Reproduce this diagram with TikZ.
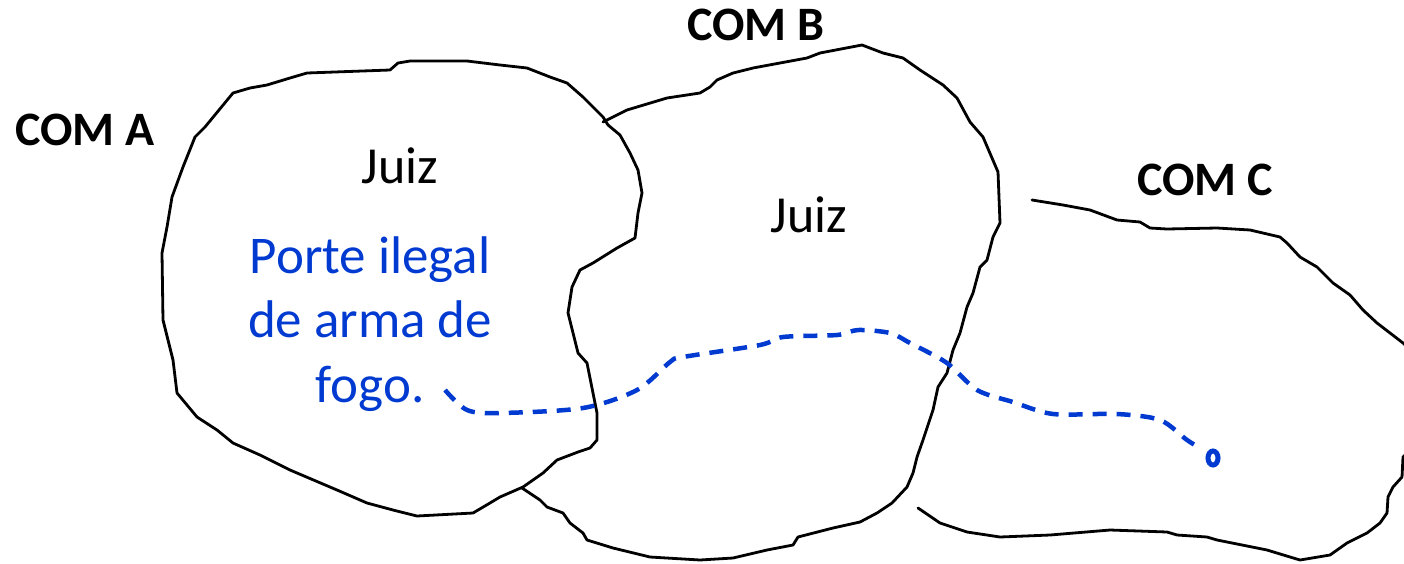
\documentclass[tikz,border=0pt]{standalone}
\usepackage{fontspec}
\setmainfont{Carlito}
\definecolor{penblue}{RGB}{0,58,208}
\begin{document}
\begin{tikzpicture}[x=1pt,y=-1pt,
  blob/.style={draw=black,line width=2.8pt,line join=round,line cap=round},
  label/.style={font=\fontsize{48}{58}\selectfont\bfseries,anchor=base,inner sep=0pt},
  judge/.style={font=\fontsize{52}{62}\selectfont,anchor=base,inner sep=0pt},
  crime/.style={font=\fontsize{53}{64.5}\selectfont,text=penblue,align=center,anchor=base,inner sep=0pt},
  route/.style={draw=penblue,line width=4.5pt,dash pattern=on 14pt off 10pt,smooth,tension=0.5}]
\useasboundingbox (0,0) rectangle (1404,563);
\begin{scope}
\clip (0,0) rectangle (1404,563);
% COM A
\draw[blob] (307,73) -- (390,70) -- (398,63) -- (410,61) -- (467,61) -- (500,65) -- (527,68) -- (550,77) -- (567,83) -- (583,97) -- (603,117) -- (608,125) -- (620,135) -- (630,153) -- (638,170) -- (642,193) -- (638,213) -- (635,238) -- (617,248) -- (593,263) -- (580,270) -- (572,287) -- (568,313) -- (573,333) -- (578,353) -- (587,363) -- (593,393) -- (597,413) -- (597,440) -- (590,448) -- (578,452) -- (557,460) -- (543,473) -- (523,487) -- (500,497) -- (490,503) -- (473,513) -- (417,516) -- (393,510) -- (367,503) -- (337,490) -- (290,470) -- (260,455) -- (233,443) -- (217,430) -- (197,417) -- (177,393) -- (173,360) -- (163,320) -- (162,253) -- (167,227) -- (172,197) -- (183,167) -- (195,137) -- (205,127) -- (233,93) -- (250,88) -- (267,85) -- (290,78) -- cycle;
% COM B
\draw[blob] (603,122) -- (627,110) -- (667,98) -- (700,93) -- (710,87) -- (717,80) -- (733,73) -- (753,68) -- (807,58) -- (820,53) -- (862,45) -- (883,53) -- (903,58) -- (920,70) -- (943,85) -- (957,98) -- (970,122) -- (983,137) -- (998,172) -- (1000,223) -- (993,237) -- (987,260) -- (980,267) -- (973,293) -- (967,307) -- (960,333) -- (953,350) -- (947,373) -- (938,387) -- (933,410) -- (923,440) -- (917,457) -- (913,473) -- (907,487) -- (892,503) -- (877,513) -- (860,522) -- (833,528) -- (798,537) -- (793,545) -- (767,550) -- (733,558) -- (700,560) -- (650,557) -- (613,548) -- (587,540) -- (583,533) -- (570,523) -- (563,513) -- (547,507) -- (540,500) -- (522,488);
% COM C
\draw[blob] (1032,200) -- (1063,205) -- (1090,210) -- (1117,220) -- (1140,222) -- (1150,228) -- (1167,229) -- (1217,228) -- (1250,230) -- (1280,237) -- (1287,243) -- (1300,257) -- (1317,267) -- (1333,283) -- (1350,295) -- (1363,310) -- (1377,323) -- (1390,333) -- (1403,343) -- (1420,360) -- (1420,440) -- (1403,457) -- (1402,477) -- (1393,487) -- (1388,497) -- (1387,513) -- (1380,523) -- (1367,533) -- (1347,543) -- (1330,555) -- (1300,560) -- (1290,557) -- (1267,550) -- (1217,540) -- (1207,537) -- (1177,535) -- (1167,532) -- (1110,530) -- (1050,535) -- (1000,537) -- (967,532) -- (940,523) -- (918,508);
\end{scope}
% labels
\node[label] (coma) at (85,145) {COM A};
\node[label] (comb) at (756,40) {COM B};
\node[label] (comc) at (1205,195) {COM C};
\node[judge] (juiza) at (400,183) {Juiz};
\node[judge] (juizb) at (809,232) {Juiz};
\node[crime] (crime) at (370,402) {Porte ilegal\\de arma de\\fogo.};
% route
\coordinate (start) at (445,390);
\coordinate (goal) at (1213,458);
\draw[route] plot coordinates {(445,390) (467,410) (500,413) (583,408) (637,390) (670,362) (683,357) (760,345) (783,337) (837,335) (858,330) (890,333) (910,343) (947,363) (977,390) (1013,402) (1053,414) (1117,414) (1160,420) (1187,440) (1200,448)};
\draw[draw=penblue,line width=5pt] (goal) ellipse [x radius=5pt, y radius=7pt];
\end{tikzpicture}
\end{document}
